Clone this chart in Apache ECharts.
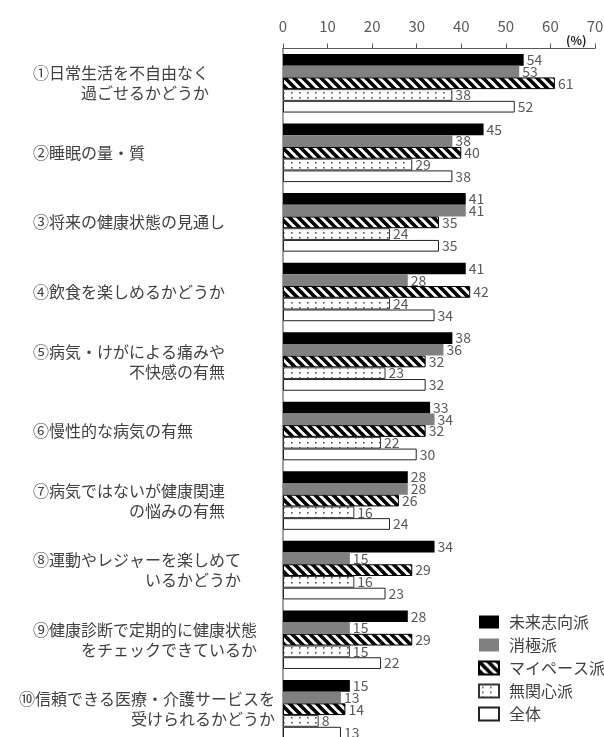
<!DOCTYPE html>
<html>
<head>
<meta charset="utf-8">
<script src="https://cdn.jsdelivr.net/npm/echarts@6/dist/echarts.min.js"></script>
<style>
html, body { margin: 0; padding: 0; background: #fff; }
#chart { width: 604px; height: 737px; }
</style>
</head>
<body>
<div id="chart"></div>
<script>
// 健康に関する評価項目（複数回答, %）
const categories = [
  '①日常生活を不自由なく\n過ごせるかどうか',
  '②睡眠の量・質',
  '③将来の健康状態の見通し',
  '④飲食を楽しめるかどうか',
  '⑤病気・けがによる痛みや\n不快感の有無',
  '⑥慢性的な病気の有無',
  '⑦病気ではないが健康関連\nの悩みの有無',
  '⑧運動やレジャーを楽しめて\nいるかどうか',
  '⑨健康診断で定期的に健康状態\nをチェックできているか',
  '⑩信頼できる医療・介護サービスを\n受けられるかどうか'
];
const seriesNames = ['未来志向派', '消極派', 'マイペース派', '無関心派', '全体'];
const miraiShikou = [54, 45, 41, 41, 38, 33, 28, 34, 28, 15];
const shokyoku    = [53, 38, 41, 28, 36, 34, 28, 15, 15, 13];
const myPace      = [61, 40, 35, 42, 32, 32, 26, 29, 29, 14];
const mukanshin   = [38, 29, 24, 24, 23, 22, 16, 16, 15, 8];
const zentai      = [52, 38, 35, 34, 32, 30, 24, 23, 22, 13];
const axisMin = 0, axisMax = 70, axisStep = 10;

const FONT = '"Noto Sans CJK JP", "Noto Sans", sans-serif';
const LABEL_SIZE = 16;

// 斜線ハッチ
function stripeTile() {
  const s = 9;
  const c = document.createElement('canvas');
  c.width = s; c.height = s;
  const ctx = c.getContext('2d');
  ctx.fillStyle = '#fff';
  ctx.fillRect(0, 0, s, s);
  ctx.strokeStyle = '#000';
  ctx.lineWidth = 3.6;
  ctx.beginPath();
  for (let k = -1; k <= 1; k++) {
    ctx.moveTo(k * s - 1, -1);
    ctx.lineTo(k * s + s + 1, s + 1);
  }
  ctx.stroke();
  return c;
}
// ドット
function dotTile() {
  const w = 8, h = 5;
  const c = document.createElement('canvas');
  c.width = w; c.height = h;
  const ctx = c.getContext('2d');
  ctx.fillStyle = '#fff';
  ctx.fillRect(0, 0, w, h);
  ctx.fillStyle = '#555';
  ctx.fillRect(3, 2, 1.6, 1.6);
  return c;
}

// 項目ラベル：2 行目は 1 行目の右端に揃え、左端は概ね揃える
const measureCtx = document.createElement('canvas').getContext('2d');
measureCtx.font = LABEL_SIZE + 'px ' + FONT;
const labelRich = {
  a: { fontSize: LABEL_SIZE, fontFamily: FONT, color: '#404040', lineHeight: 20 },
  r: { fontSize: LABEL_SIZE, fontFamily: FONT, color: '#404040', lineHeight: 20, align: 'right' }
};
const labelText = {};
categories.forEach(function (cat, i) {
  const lines = cat.split('\n');
  const w = Math.max.apply(null, lines.map(function (l) { return measureCtx.measureText(l).width; }));
  const pad = Math.max(0, Math.min(30, 272 - w));
  const key = 'p' + i;
  labelRich[key] = { width: pad, fontSize: LABEL_SIZE, lineHeight: 20 };
  let txt = '{' + key + '| }{a|' + lines[0] + '}';
  if (lines[1]) txt += '\n{r|' + lines[1] + '}';
  labelText[cat] = txt;
});

const fills = [
  { color: '#000000' },
  { color: '#808080' },
  { color: { image: stripeTile(), repeat: 'repeat' }, borderColor: '#000', borderWidth: 1 },
  { color: { image: dotTile(), repeat: 'repeat' }, borderColor: '#333', borderWidth: 1 },
  { color: '#ffffff', borderColor: '#222', borderWidth: 1 }
];
const values = [miraiShikou, shokyoku, myPace, mukanshin, zentai];

const series = seriesNames.map(function (name, i) {
  return {
    name: name,
    type: 'bar',
    data: values[i],
    barGap: '0%',
    barCategoryGap: '15.8%',
    itemStyle: fills[i],
    label: {
      show: true,
      position: 'right',
      distance: 3,
      fontSize: 14,
      fontFamily: FONT,
      color: '#595959'
    },
    emphasis: { disabled: true }
  };
});

const chart = echarts.init(document.getElementById('chart'), null, { renderer: 'canvas' });
chart.setOption({
  animation: false,
  backgroundColor: '#fff',
  textStyle: { fontFamily: FONT },
  grid: { left: 283, right: 9, top: 48.5, bottom: -7, containLabel: false, outerBoundsMode: 'none' },
  xAxis: {
    type: 'value',
    position: 'top',
    min: axisMin,
    max: axisMax,
    interval: axisStep,
    name: '(%)',
    nameLocation: 'end',
    nameGap: -29,
    nameTextStyle: { fontSize: 12, fontWeight: 'bold', color: '#222', align: 'left', verticalAlign: 'bottom', padding: [0, 0, 2, 0] },
    splitLine: { show: false },
    axisLine: { show: true, lineStyle: { color: '#595959', width: 1 } },
    axisTick: { show: true, length: 5, lineStyle: { color: '#595959' } },
    axisLabel: { fontSize: 15, color: '#595959', margin: 15 }
  },
  yAxis: {
    type: 'category',
    inverse: true,
    data: categories,
    axisLine: { show: true, lineStyle: { color: '#808080', width: 1.5 } },
    axisTick: { show: false },
    splitLine: { show: false },
    axisLabel: {
      interval: 0,
      align: 'left',
      margin: 280,
      formatter: function (v) { return labelText[v]; },
      rich: labelRich
    }
  },
  legend: {
    orient: 'vertical',
    left: 473,
    top: 609,
    itemWidth: 20,
    itemHeight: 13,
    itemGap: 7,
    icon: 'rect',
    data: seriesNames,
    textStyle: { fontSize: 16, color: '#404040', fontFamily: FONT, padding: [0, 0, 0, 5] }
  },
  series: series
});
</script>
</body>
</html>
